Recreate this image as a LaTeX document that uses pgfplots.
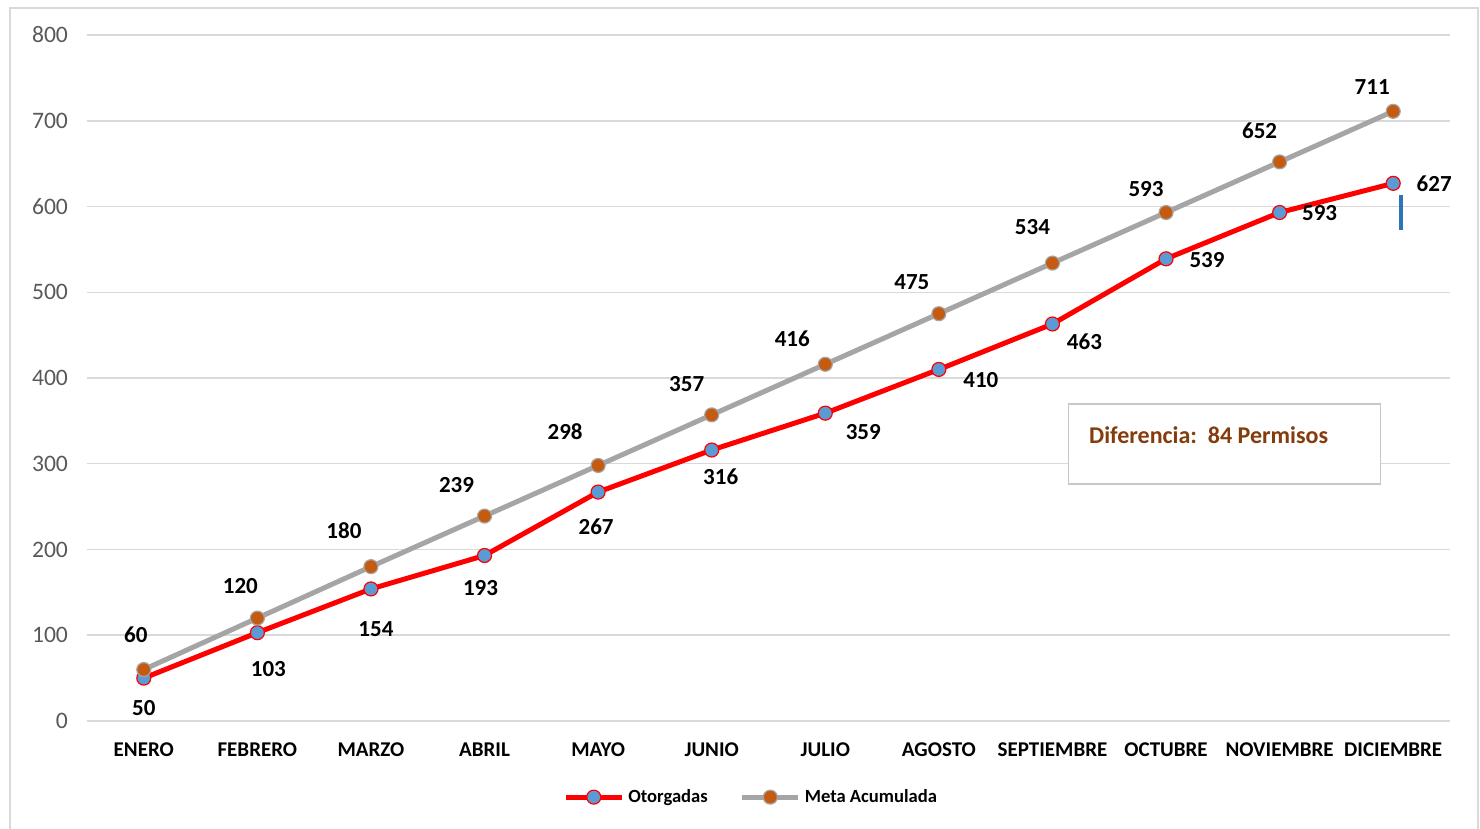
\documentclass[border=0pt]{standalone}
\usepackage{fontspec}
\setmainfont{Carlito}
\usepackage{pgfplots}
\usepackage{pgfplotstable}
\pgfplotsset{compat=1.18}

\definecolor{otorred}{HTML}{FF0000}
\definecolor{otorblue}{HTML}{5B9BD5}
\definecolor{metagray}{HTML}{A5A5A5}
\definecolor{metaorange}{HTML}{C55A11}
\definecolor{gridgray}{HTML}{D9D9D9}
\definecolor{ticktext}{HTML}{595959}
\definecolor{notebrown}{HTML}{843C0C}
\definecolor{markblue}{HTML}{2E75B6}

% label offsets (pt) from each point to the centre of its value label
\pgfplotstableread{
x otor odx ody meta mdx mdy
0  50   0    -15   60  -4    17.5
1  103  5.5  -18   120 -8.5  16
2  154  2.5  -20   180 -13.5 18
3  193  -2   -16.5 239 -14   15.5
4  267  -1   -17.5 298 -16.5 17
5  316  4.5  -13.5 357 -12.5 15.5
6  359  19   -9.5  416 -16.5 13
7  410  21   -5.5  475 -13.5 16
8  463  16   -9    534 -10   18
9  539  20.5 -0.5  593 -10   11.5
10 593  20   -0.5  652 -10   15.5
11 627  20.5 0     711 -10.5 12
}\datos

\begin{document}
\begin{tikzpicture}
\useasboundingbox (-43.5pt,-54pt) rectangle (696.5pt,360.5pt);
\draw[gridgray, line width=1pt] (-38.5pt,-70pt) rectangle (695.5pt,356.5pt);
\begin{axis}[
    at={(0,0)}, anchor=south west,
    scale only axis,
    width=681.5pt, height=343pt,
    xmin=-0.5, xmax=11.5,
    ymin=0, ymax=800,
    xtick={0,...,11},
    xticklabels={ENERO,FEBRERO,MARZO,ABRIL,MAYO,JUNIO,JULIO,AGOSTO,SEPTIEMBRE,OCTUBRE,NOVIEMBRE,DICIEMBRE},
    ytick={0,100,...,800},
    ymajorgrids,
    grid style={gridgray, line width=0.75pt},
    axis line style={draw=none},
    major tick length=0pt,
    /pgf/number format/assume math mode=true,
    yticklabel style={font=\fontsize{11.8}{13}\selectfont, text=ticktext, xshift=-6pt},
    xticklabel style={font=\fontsize{10.5}{12}\selectfont\bfseries, text=black, yshift=-7.5pt},
    legend columns=2,
    legend style={at={(0.488,-0.111)}, anchor=center, draw=none, fill=none,
                  font=\fontsize{9.3}{11}\selectfont\bfseries,
                  /tikz/every even column/.append style={column sep=14pt}},
    legend image code/.code={
        \draw[#1, mark=none] (0pt,0pt) -- (28pt,0pt);
        \draw[#1, only marks] plot coordinates {(14pt,0pt)};
    },
    nodes near coords,
    nodes near coords style={font=\fontsize{11.5}{13}\selectfont\bfseries, text=black, anchor=center,
        /pgf/number format/fixed, /pgf/number format/precision=0},
  ]
\addplot[otorred, line width=2.5pt, mark=*, mark size=3.5pt,
    mark options={fill=otorblue, draw=otorred, line width=0.6pt},
    visualization depends on={\thisrow{odx}\as\dx},
    visualization depends on={\thisrow{ody}\as\dy},
    nodes near coords style={xshift=\dx pt, yshift=\dy pt}]
  table[x=x, y=otor] {\datos};
\addlegendentry{Otorgadas}
\addplot[metagray, line width=2.5pt, mark=*, mark size=3.5pt,
    mark options={fill=metaorange, draw=metagray, line width=0.6pt},
    visualization depends on={\thisrow{mdx}\as\dx},
    visualization depends on={\thisrow{mdy}\as\dy},
    nodes near coords style={xshift=\dx pt, yshift=\dy pt}]
  table[x=x, y=meta] {\datos};
\addlegendentry{Meta Acumulada}
% note box and the small blue stroke beside December
\draw[gridgray!80!gray, line width=0.75pt, fill=white] (axis cs:8.14,276.4) rectangle (axis cs:10.89,369.7);
\node[anchor=west, text=notebrown, font=\fontsize{12}{14}\selectfont\bfseries, inner sep=0pt]
  at (axis cs:8.32,333.5) {Diferencia:\ \ 84 Permisos};
\draw[markblue, line width=2pt] (axis cs:11.07,572.6) -- (axis cs:11.07,613.4);
\end{axis}
\end{tikzpicture}
\end{document}
